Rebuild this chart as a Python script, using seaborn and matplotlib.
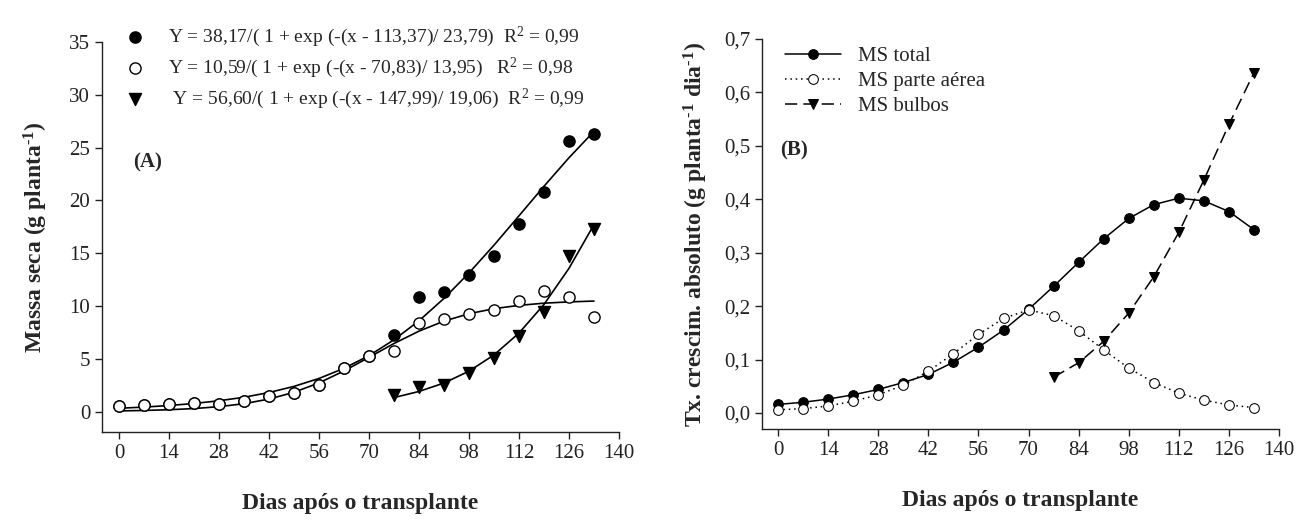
import matplotlib
matplotlib.use('Agg')
import matplotlib.pyplot as plt
import seaborn as sns

# days after transplanting
days = [0, 7, 14, 21, 28, 35, 42, 49, 56, 63, 70, 77, 84, 91, 98, 105, 112, 119, 126, 133]
bulb_days = [77, 84, 91, 98, 105, 112, 119, 126, 133]

# (A) dry mass, g/plant
total_mass = [0.57, 0.63, 0.69, 0.82, 0.75, 1.04, 1.45, 1.79, 2.55, 4.15, 5.28,
              7.3, 10.85, 11.3, 12.9, 14.7, 17.8, 20.8, 25.6, 26.3]
shoot_mass = [0.57, 0.63, 0.69, 0.82, 0.75, 1.04, 1.45, 1.79, 2.55, 4.15, 5.28,
              5.75, 8.43, 8.77, 9.25, 9.6, 10.5, 11.4, 10.9, 9.0]
bulb_mass = [1.6, 2.36, 2.5, 3.7, 5.1, 7.2, 9.4, 14.7, 17.3]

# (A) fitted logistic curves
total_fit = [0.32, 0.43, 0.58, 0.77, 1.03, 1.36, 1.81, 2.39, 3.14, 4.10, 5.30,
             6.80, 8.60, 10.72, 13.13, 15.76, 18.54, 21.34, 24.04, 26.54]
shoot_fit = [0.07, 0.11, 0.18, 0.29, 0.47, 0.75, 1.19, 1.83, 2.72, 3.85, 5.14,
             6.45, 7.62, 8.57, 9.27, 9.75, 10.06, 10.27, 10.39, 10.47]
bulb_fit = [1.33, 1.91, 2.71, 3.83, 5.37, 7.44, 10.15, 13.57, 17.71]

eq_labels = ['Y = 38,17/( 1 + exp (-(x - 113,37)/ 23,79)  R$^2$ = 0,99',
             'Y = 10,59/( 1 + exp (-(x - 70,83)/ 13,95)   R$^2$ = 0,98',
             ' Y = 56,60/( 1 + exp (-(x - 147,99)/ 19,06)  R$^2$ = 0,99']

# (B) absolute growth rate, g/plant/day
total_rate = [0.016, 0.020, 0.026, 0.034, 0.044, 0.057, 0.072, 0.095, 0.123, 0.155,
              0.194, 0.237, 0.282, 0.326, 0.364, 0.390, 0.402, 0.397, 0.377, 0.343]
shoot_rate = [0.006, 0.008, 0.013, 0.022, 0.034, 0.052, 0.078, 0.111, 0.147, 0.177,
              0.193, 0.182, 0.154, 0.118, 0.084, 0.057, 0.037, 0.024, 0.015, 0.010]
bulb_rate = [0.067, 0.094, 0.134, 0.187, 0.255, 0.338, 0.436, 0.540, 0.637]

x_ticks = [0, 14, 28, 42, 56, 70, 84, 98, 112, 126, 140]
rate_ticks = [0, 0.1, 0.2, 0.3, 0.4, 0.5, 0.6, 0.7]
rate_labels = ['0,0', '0,1', '0,2', '0,3', '0,4', '0,5', '0,6', '0,7']

sns.set_style('ticks')
plt.rcParams['font.family'] = ['Liberation Serif', 'DejaVu Serif']
plt.rcParams['mathtext.fontset'] = 'custom'
plt.rcParams['mathtext.rm'] = 'Liberation Serif'
plt.rcParams['mathtext.default'] = 'regular'
plt.rcParams['axes.edgecolor'] = '#222222'
plt.rcParams['xtick.color'] = '#222222'
plt.rcParams['ytick.color'] = '#222222'

fig = plt.figure(figsize=(13.07, 5.21), dpi=100)
ax1 = fig.add_axes([0.0780, 0.1714, 0.3956, 0.748])
ax2 = fig.add_axes([0.5830, 0.1766, 0.3956, 0.7486])

# ---- panel A
sns.lineplot(x=days, y=total_fit, ax=ax1, color='black', lw=1.2, estimator=None)
sns.lineplot(x=days, y=shoot_fit, ax=ax1, color='black', lw=1.2, estimator=None)
sns.lineplot(x=bulb_days, y=bulb_fit, ax=ax1, color='black', lw=1.2, estimator=None)
sns.scatterplot(x=days, y=total_mass, ax=ax1, marker='o', s=65, color='black',
                edgecolor='black', linewidth=1, label=eq_labels[0], zorder=3)
sns.scatterplot(x=days, y=shoot_mass, ax=ax1, marker='o', s=65, color='white',
                edgecolor='black', linewidth=1, label=eq_labels[1], zorder=4)
sns.scatterplot(x=bulb_days, y=bulb_mass, ax=ax1, marker='v', s=75, color='black',
                edgecolor='black', linewidth=1, label=eq_labels[2], zorder=3)

ax1.set_xlim(-4.76, 140)
ax1.set_ylim(-1.9, 35)
ax1.set_xticks(x_ticks)
ax1.set_yticks(range(0, 36, 5))
ax1.set_xlabel('Dias após o transplante', fontsize=17, fontweight='bold', labelpad=22)
ax1.set_ylabel('Massa seca (g planta$^{\u20101}$)', fontsize=17, fontweight='bold',
               labelpad=14)
ax1.text(0.06, 0.69, '(A)', transform=ax1.transAxes, fontsize=15, fontweight='bold',
         va='center')
h, l = ax1.get_legend_handles_labels()
ax1.legend(h, l, loc='upper left', bbox_to_anchor=(0.045, 1.045), frameon=False,
           fontsize=14, handlelength=1.0, handletextpad=1.2, labelspacing=0.35,
           borderpad=0, borderaxespad=0)

# ---- panel B
sns.lineplot(x=days, y=total_rate, ax=ax2, color='black', lw=1.1, marker='o',
             markersize=7, markerfacecolor='black', markeredgecolor='black',
             label='MS total', estimator=None)
sns.lineplot(x=days, y=shoot_rate, ax=ax2, color='black', lw=1.1, marker='o',
             markersize=7, markerfacecolor='white', markeredgecolor='black',
             linestyle=(0, (1, 2.5)), label='MS parte aérea', estimator=None)
sns.lineplot(x=bulb_days, y=bulb_rate, ax=ax2, color='black', lw=1.1, marker='v',
             markersize=7, markerfacecolor='black', markeredgecolor='black',
             linestyle=(0, (8, 4)), label='MS bulbos', estimator=None)

ax2.set_xlim(-4.5, 140)
ax2.set_ylim(-0.03, 0.7)
ax2.set_xticks(x_ticks)
ax2.set_yticks(rate_ticks)
ax2.set_yticklabels(rate_labels)
ax2.set_xlabel('Dias após o transplante', fontsize=17, fontweight='bold', labelpad=22)
ax2.set_ylabel('Tx. crescim. absoluto (g planta$^{\u20101}$ dia$^{\u20101}$)', fontsize=17,
               fontweight='bold', labelpad=10)
ax2.text(0.035, 0.715, '(B)', transform=ax2.transAxes, fontsize=15, fontweight='bold',
         va='center')
ax2.legend(loc='upper left', bbox_to_anchor=(0.045, 0.98), frameon=False,
           fontsize=15, handlelength=2.7, handletextpad=0.8, labelspacing=0.25,
           borderpad=0, borderaxespad=0)

for ax in (ax1, ax2):
    sns.despine(ax=ax)
    ax.tick_params(labelsize=15, length=5, width=1)
    for sp in ax.spines.values():
        sp.set_linewidth(1)

fig.savefig('out.png', dpi=100)
